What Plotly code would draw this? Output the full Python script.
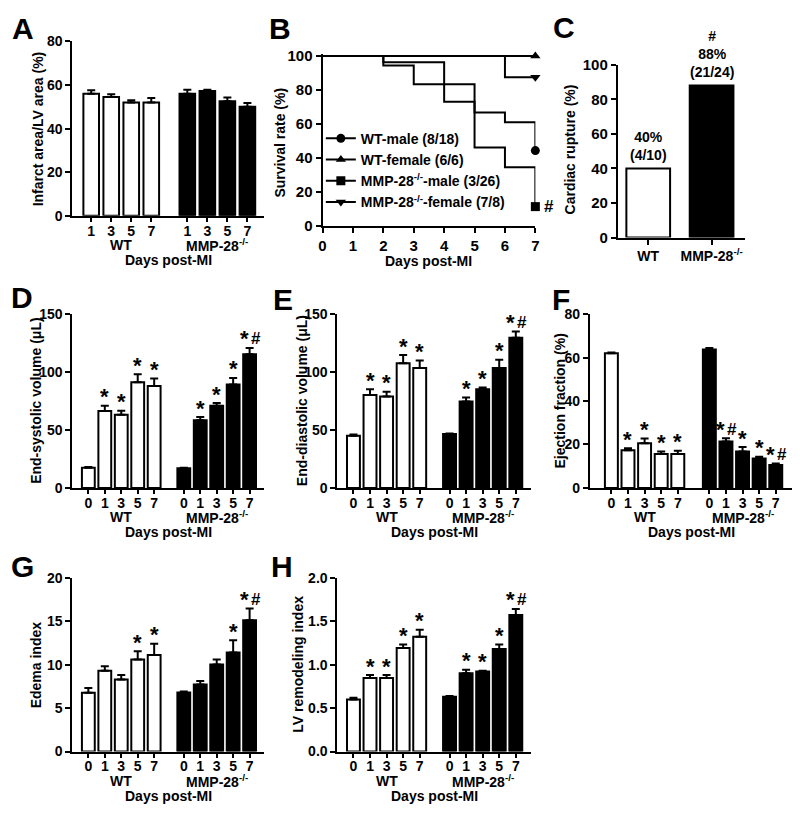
import plotly.graph_objects as go

FONT = "Liberation Sans, Arial, sans-serif"
PAGE_W, PAGE_H = 800, 817
OFF = 8                      # default body margin of the html page
W, H = PAGE_W - OFF, PAGE_H - OFF

# ---------------- data ----------------
a_days = ["1", "3", "5", "7"]
a_wt = [56.0, 54.5, 52.0, 52.0]
a_wt_err = [1.6, 1.3, 1.0, 2.0]
a_ko = [56.0, 57.3, 52.5, 50.0]
a_ko_err = [1.8, 0.5, 1.8, 1.8]

surv_wt_male_t = [0, 2, 3, 5, 6, 7]
surv_wt_male_s = [100, 94.4, 83.3, 66.7, 61.1, 44.4]
surv_wt_female_t = [0, 7]
surv_wt_female_s = [100, 100]
surv_ko_male_t = [0, 2, 4, 5, 6, 7]
surv_ko_male_s = [100, 96.2, 73.1, 46.2, 34.6, 11.5]
surv_ko_female_t = [0, 6, 7]
surv_ko_female_s = [100, 87.5, 87.5]
surv_names = ["WT-male (8/18)", "WT-female (6/6)",
              "MMP-28<sup>-/-</sup>-male (3/26)", "MMP-28<sup>-/-</sup>-female (7/8)"]

c_groups = ["WT", "MMP-28<sup>-/-</sup>"]
c_vals = [40, 88]
c_labels = ["40%<br>(4/10)", "#<br>88%<br>(21/24)"]

days = ["0", "1", "3", "5", "7"]
d_wt = [17.5, 66.5, 63.2, 91.3, 88.0]
d_wt_err = [0.5, 4.5, 3.5, 7.0, 6.5]
d_ko = [17.0, 58.4, 71.0, 89.4, 115.6]
d_ko_err = [0.5, 2.8, 2.3, 5.6, 5.4]
d_wt_sig = ["", "*", "*", "*", "*"]
d_ko_sig = ["", "*", "*", "*", "*#"]

e_wt = [45.1, 80.3, 79.0, 107.8, 103.7]
e_wt_err = [1.0, 5.0, 4.0, 7.0, 6.5]
e_ko = [46.6, 74.6, 85.3, 103.7, 129.7]
e_ko_err = [0.5, 3.5, 1.5, 7.0, 5.5]
e_wt_sig = ["", "*", "*", "*", "*"]
e_ko_sig = ["", "*", "*", "*", "*#"]

f_wt = [62.0, 17.3, 20.6, 15.6, 15.6]
f_wt_err = [0.4, 1.0, 2.2, 1.2, 1.5]
f_ko = [63.8, 21.4, 16.8, 13.5, 10.5]
f_ko_err = [0.7, 1.5, 2.0, 0.8, 0.8]
f_wt_sig = ["", "*", "*", "*", "*"]
f_ko_sig = ["", "*#", "*", "*", "*#"]

g_wt = [6.75, 9.3, 8.3, 10.6, 11.1]
g_wt_err = [0.55, 0.5, 0.5, 0.95, 1.3]
g_ko = [6.8, 7.7, 10.0, 11.4, 15.1]
g_ko_err = [0.1, 0.4, 0.6, 1.4, 1.35]
g_wt_sig = ["", "", "", "*", "*"]
g_ko_sig = ["", "", "", "*", "*#"]

h_wt = [0.60, 0.845, 0.845, 1.19, 1.32]
h_wt_err = [0.02, 0.035, 0.035, 0.04, 0.08]
h_ko = [0.63, 0.90, 0.92, 1.18, 1.57]
h_ko_err = [0.01, 0.04, 0.01, 0.05, 0.07]
h_wt_sig = ["", "*", "*", "*", "*"]
h_ko_sig = ["", "*", "*", "*", "*#"]

# ---------------- helpers ----------------
fig = go.Figure()
axes = {}
ann = []


def PX(x):
    return (x - OFF) / W


def PY(y):
    return 1 - (y - OFF) / H


def tf(size=14):
    return dict(family=FONT, size=size, color="black", weight="bold")


def ax_common():
    return dict(showline=True, linecolor="black", linewidth=2, ticks="outside",
                tickwidth=2, ticklen=5, tickcolor="black", showgrid=False,
                zeroline=False, tickfont=tf(14), fixedrange=True)


def suffix(i):
    return "" if i == 1 else str(i)


def set_axes(i, xpx, ypx, xrange, yrange, dtick, tickvals=None, ticktext=None,
             ytickformat=None, xdtick=None):
    s = suffix(i)
    xa = ax_common()
    xa.update(domain=[PX(xpx[0]), PX(xpx[1])], range=xrange, anchor="y" + s)
    if tickvals is not None:
        xa.update(tickmode="array", tickvals=tickvals, ticktext=ticktext)
    if xdtick is not None:
        xa.update(dtick=xdtick, tick0=0)
    ya = ax_common()
    ya.update(domain=[PY(ypx[1]), PY(ypx[0])], range=yrange,
              anchor="x" + s, dtick=dtick, tick0=0)
    if ytickformat:
        ya.update(tickformat=ytickformat)
    axes["xaxis" + s] = xa
    axes["yaxis" + s] = ya


def text_px(x, y, text, size=14, angle=0, xanchor="center", yanchor="middle"):
    ann.append(dict(x=PX(x), y=PY(y), xref="paper", yref="paper", text=text,
                    showarrow=False, font=tf(size), textangle=angle,
                    xanchor=xanchor, yanchor=yanchor))


def panel_letter(letter, x, y):
    text_px(x, y, letter, size=30, xanchor="left", yanchor="top")


def sig_ann(i, x, ytop, sig):
    s = suffix(i)
    if not sig:
        return
    if sig == "*":
        parts = [("*", 0, 22, 9)]
    else:
        parts = [("*", -5, 22, 9), ("#", 6, 17, 9)]
    for t, xs, fs, ys in parts:
        ann.append(dict(x=x, y=ytop, xref="x" + s, yref="y" + s, text=t,
                        showarrow=False, font=tf(fs), xshift=xs, yshift=ys,
                        xanchor="center", yanchor="middle"))


def bar_panel(i, labels, wt, wt_err, ko, ko_err, wt_sig, ko_sig, xpx, ypx,
              xrange, yrange, dtick, ytitle, title_x, letter, letter_pos,
              ytickformat=None, gap=1.8):
    s = suffix(i)
    n = len(labels)
    pos_wt = list(range(n))
    pos_ko = [n - 1 + gap + k for k in range(n)]
    for pos, vals, err, col in ((pos_wt, wt, wt_err, "white"), (pos_ko, ko, ko_err, "black")):
        fig.add_trace(go.Bar(
            x=pos, y=vals, width=0.78,
            marker=dict(color=col, line=dict(color="black", width=2)),
            error_y=dict(type="data", array=err, arrayminus=[0] * n, symmetric=False,
                         color="black", thickness=2, width=4),
            xaxis="x" + s, yaxis="y" + s, showlegend=False, hoverinfo="skip"))
    set_axes(i, xpx, ypx, xrange, yrange, dtick, tickvals=pos_wt + pos_ko,
             ticktext=labels + labels, ytickformat=ytickformat)
    axes["xaxis" + s].update(ticklen=4, ticklabelstandoff=-3)
    for k in range(n):
        sig_ann(i, pos_wt[k], wt[k] + wt_err[k], wt_sig[k])
        sig_ann(i, pos_ko[k], ko[k] + ko_err[k], ko_sig[k])
    yaxis_px = ypx[1]
    for pos, name in ((pos_wt, "WT"), (pos_ko, "MMP-28<sup>-/-</sup>")):
        cx = sum(pos) / len(pos)
        ann.append(dict(x=cx, y=PY(yaxis_px + 30), xref="x" + s, yref="paper",
                        text=name, showarrow=False, font=tf(14),
                        xanchor="center", yanchor="middle"))
    text_px((xpx[0] + xpx[1]) / 2, yaxis_px + 45, "Days post-MI", size=14)
    text_px(title_x, (ypx[0] + ypx[1]) / 2, ytitle, size=14, angle=-90)
    panel_letter(letter, *letter_pos)


# ---------------- panel A ----------------
bar_panel(1, a_days, a_wt, a_wt_err, a_ko, a_ko_err, [""] * 4, [""] * 4,
          (69, 263), (33, 211), [-0.94, 8.65], [0, 80], 20,
          "Infarct area/LV area (%)", 34, "A", (6, 1))

# ---------------- panel B (survival) ----------------
surv = [(surv_wt_male_t, surv_wt_male_s, "circle"),
        (surv_wt_female_t, surv_wt_female_s, "triangle-up"),
        (surv_ko_male_t, surv_ko_male_s, "square"),
        (surv_ko_female_t, surv_ko_female_s, "triangle-down")]
for (t, sv, sym), name in zip(surv, surv_names):
    fig.add_trace(go.Scatter(x=t, y=sv, mode="lines", line=dict(color="black", width=2, shape="hv"),
                             xaxis="x2", yaxis="y2", showlegend=False, hoverinfo="skip"))
    fig.add_trace(go.Scatter(x=t[-1:], y=sv[-1:], mode="markers", cliponaxis=False,
                             marker=dict(symbol=sym, color="black", size=9),
                             xaxis="x2", yaxis="y2", showlegend=False, hoverinfo="skip"))
    fig.add_trace(go.Scatter(x=[None], y=[None], mode="lines+markers", name=name,
                             line=dict(color="black", width=2),
                             marker=dict(symbol=sym, color="black", size=9),
                             xaxis="x2", yaxis="y2"))
set_axes(2, (321.7, 536.7), (46, 221.7), [0, 7], [0, 101], 20, xdtick=1)
axes["xaxis2"]["tickfont"] = tf(15)
axes["yaxis2"]["tickfont"] = tf(15)
ann.append(dict(x=7, y=surv_ko_male_s[-1], xref="x2", yref="y2", text="#", showarrow=False,
                font=tf(17), xshift=14, xanchor="center", yanchor="middle"))
text_px(429, 257, "Days post-MI", size=14)
text_px(279, 136, "Survival rate (%)", size=14, angle=-90)
panel_letter("B", 266, 1)

# ---------------- panel C ----------------
fig.add_trace(go.Bar(x=[0, 1], y=c_vals, width=0.69,
                     marker=dict(color=["white", "black"], line=dict(color="black", width=2)),
                     xaxis="x3", yaxis="y3", showlegend=False, hoverinfo="skip"))
set_axes(3, (620, 748), (56.7, 233.3), [-0.48, 1.52], [0, 100], 20,
         tickvals=[0, 1], ticktext=c_groups)
axes["xaxis3"]["tickfont"] = tf(14)
axes["yaxis3"]["tickfont"] = tf(15)
for k in range(2):
    ann.append(dict(x=k, y=c_vals[k], xref="x3", yref="y3", text=c_labels[k],
                    showarrow=False, font=tf(14), yshift=3,
                    xanchor="center", yanchor="bottom"))
text_px(572, 143, "Cardiac rupture (%)", size=14, angle=-90)
panel_letter("C", 553, 0)

# ---------------- panels D-H ----------------
bar_panel(4, days, d_wt, d_wt_err, d_ko, d_ko_err, d_wt_sig, d_ko_sig,
          (69, 263), (311.7, 489), [-0.97, 10.7], [0, 150], 50,
          "End-systolic volume (\u03bcL)", 32, "D", (5, 276))
bar_panel(5, days, e_wt, e_wt_err, e_ko, e_ko_err, e_wt_sig, e_ko_sig,
          (336.7, 532), (311.7, 489), [-0.97, 10.7], [0, 150], 50,
          "End-diastolic volume (\u03bcL)", 301, "E", (270, 278))
bar_panel(6, days, f_wt, f_wt_err, f_ko, f_ko_err, f_wt_sig, f_ko_sig,
          (591.7, 798), (311.7, 489), [-1.3, 11.0], [0, 80], 20,
          "Ejection fraction (%)", 562, "F", (551, 278), gap=1.9)
bar_panel(7, days, g_wt, g_wt_err, g_ko, g_ko_err, g_wt_sig, g_ko_sig,
          (69, 263), (580.7, 758.3), [-0.97, 10.7], [0, 20], 5,
          "Edema index", 32, "G", (5, 550))
bar_panel(8, days, h_wt, h_wt_err, h_ko, h_ko_err, h_wt_sig, h_ko_sig,
          (336.7, 532), (580.7, 758.3), [-0.97, 10.7], [0, 2.0], 0.5,
          "LV remodeling index", 297, "H", (268, 550), ytickformat=".1f")

fig.update_layout(
    width=W, height=H, margin=dict(l=0, r=0, t=0, b=0),
    paper_bgcolor="white", plot_bgcolor="white",
    font=dict(family=FONT, color="black", weight="bold"),
    barmode="overlay",
    legend=dict(x=PX(320), y=PY(116), xanchor="left", yanchor="top",
                bgcolor="rgba(0,0,0,0)", font=tf(14), tracegroupgap=0,
                itemwidth=30),
    annotations=ann,
    **axes,
)

fig.write_html("out.html")
